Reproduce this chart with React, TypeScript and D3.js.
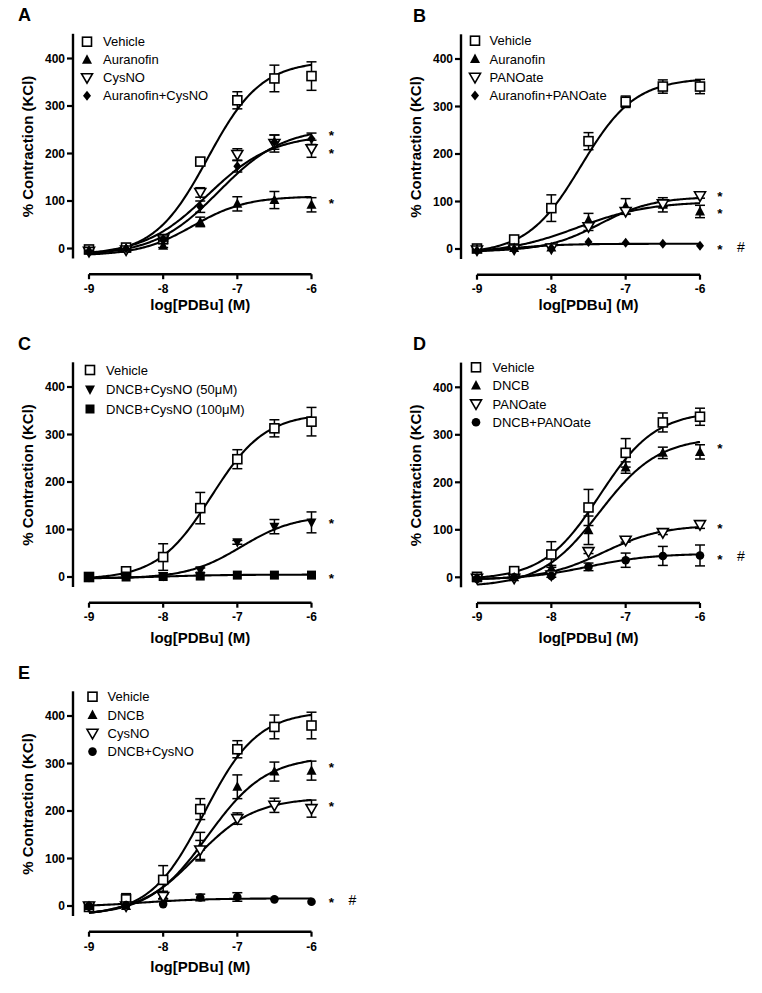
import React from "react";
import * as d3 from "d3";

// ---------- shared axes ----------
const doses = [-9, -8.5, -8, -7.5, -7, -6.5, -6];
const xTicks = [-9, -8, -7, -6];
const yTicks = [0, 100, 200, 300, 400];
const xTitle = "log[PDBu] (M)";
const yTitle = "% Contraction (KCl)";

// ---------- Panel A ----------
const aNames = ["Vehicle", "Auranofin", "CysNO", "Auranofin+CysNO"];
const aShapes = ["sq", "triU", "triD", "dia"];
const aVehicle = [-2, 2, 20, 183, 312, 358, 363];
const aVehicleErr = [0, 0, 5, 8, 18, 28, 30];
const aAuranofin = [-4, 0, 6, 56, 94, 102, 92];
const aAuranofinErr = [0, 0, 4, 10, 15, 18, 15];
const aCysNO = [-6, -3, 20, 118, 198, 221, 210];
const aCysNOErr = [0, 0, 4, 10, 12, 18, 18];
const aAurCys = [-5, 0, 20, 88, 173, 224, 231];
const aAurCysErr = [0, 0, 4, 12, 12, 15, 12];
// fitted curves: [bottom, top, logEC50, hill]
const aFits = [[-15, 395, -7.4, 1.2], [-15, 110, -7.6, 1.2], [-15, 240, -7.4, 1.0], [-15, 255, -7.25, 1.0]];
const aStars = [244, 207, 102];
const aHash = [false, false, false];

// ---------- Panel B ----------
const bNames = ["Vehicle", "Auranofin", "PANOate", "Auranofin+PANOate"];
const bShapes = ["sq", "triU", "triD", "dia"];
const bVehicle = [1, 20, 86, 227, 310, 342, 342];
const bVehicleErr = [0, 5, 28, 18, 12, 14, 15];
const bAuranofin = [0, 2, 3, 61, 90, 93, 79];
const bAuranofinErr = [0, 0, 0, 14, 16, 15, 13];
const bPANOate = [-2, 0, 2, 47, 79, 95, 112];
const bPANOateErr = [0, 0, 0, 8, 6, 6, 5];
const bAurPAN = [-3, 0, 2, 15, 13, 11, 7];
const bAurPANErr = [0, 0, 0, 0, 0, 0, 0];
const bFits = [[-10, 360, -7.6, 1.2], [-10, 100, -7.65, 0.9], [-5, 110, -7.35, 1.2], [-10, 11, -8.6, 1.2]];
const bStars = [117, 81, 5];
const bHash = [false, false, true];

// ---------- Panel C ----------
const cNames = ["Vehicle", "DNCB+CysNO (50\u03bcM)", "DNCB+CysNO (100\u03bcM)"];
const cShapes = ["sq", "triDF", "sqF"];
const cVehicle = [0, 12, 42, 145, 248, 313, 327];
const cVehicleErr = [0, 4, 28, 33, 20, 18, 30];
const cDNCB50 = [0, 3, 2, 14, 73, 106, 115];
const cDNCB50Err = [0, 0, 0, 5, 4, 15, 22];
const cDNCB100 = [0, 0, 1, 2, 4, 4, 4];
const cDNCB100Err = [0, 0, 0, 0, 0, 0, 0];
const cFits = [[-5, 345, -7.35, 1.2], [-3, 130, -6.95, 1.2], [-3, 5, -8, 1]];
const cStars = [119, 3];
const cHash = [false, false];

// ---------- Panel D ----------
const dNames = ["Vehicle", "DNCB", "PANOate", "DNCB+PANOate"];
const dShapes = ["sq", "triU", "triD", "circ"];
const dVehicle = [1, 13, 48, 147, 262, 326, 338];
const dVehicleErr = [0, 4, 27, 38, 30, 20, 18];
const dDNCB = [-2, 0, 19, 99, 231, 262, 264];
const dDNCBErr = [0, 0, 6, 30, 12, 12, 15];
const dPANOate = [-2, -2, 5, 54, 78, 94, 111];
const dPANOateErr = [0, 0, 0, 4, 4, 4, 8];
const dDNCBPAN = [-3, 0, 3, 22, 36, 45, 46];
const dDNCBPANErr = [0, 0, 3, 8, 15, 20, 22];
const dFits = [[-5, 350, -7.35, 1.15], [-20, 295, -7.35, 1.1], [-5, 110, -7.3, 1.1], [-5, 50, -7.5, 1]];
const dStars = [278, 110, 45];
const dHash = [false, false, true];

// ---------- Panel E ----------
const eNames = ["Vehicle", "DNCB", "CysNO", "DNCB+CysNO"];
const eShapes = ["sq", "triU", "triD", "circ"];
const eVehicle = [-2, 14, 55, 204, 330, 377, 380];
const eVehicleErr = [0, 12, 30, 22, 18, 25, 28];
const eDNCB = [0, 0, 23, 125, 251, 283, 285];
const eDNCBErr = [0, 0, 8, 30, 25, 20, 20];
const eCysNO = [0, 0, 20, 118, 184, 212, 205];
const eCysNOErr = [0, 0, 5, 20, 12, 15, 18];
const eDNCBCys = [0, 2, 4, 18, 19, 14, 9];
const eDNCBCysErr = [0, 0, 0, 7, 9, 0, 0];
const eFits = [[-20, 410, -7.45, 1.2], [-20, 315, -7.4, 1.1], [-20, 228, -7.55, 1.1], [-2, 16, -8.3, 1]];
const eStars = [298, 217, 14];
const eHash = [false, false, true];

// ---------- layout ----------
const FONT = "'Liberation Sans', Arial, Helvetica, sans-serif";
const cols = [
  { axisX: 73, xStart: 89, xEnd: 311.5 },
  { axisX: 461, xStart: 477, xEnd: 700 },
];

function mk(names, shapes, vals, errs, fits) {
  return names.map((n, i) => ({ name: n, shape: shapes[i], values: vals[i], err: errs[i], fit: fits[i] }));
}

const panels = [
  { id: "A", col: 0, y0: 248.5, legend: [87, 103, 41.7, 18], tickGap: 14, titleGap: 30,
    series: mk(aNames, aShapes, [aVehicle, aAuranofin, aCysNO, aAurCys], [aVehicleErr, aAuranofinErr, aCysNOErr, aAurCysErr], aFits),
    stars: aStars, hash: aHash },
  { id: "B", col: 1, y0: 249, legend: [475, 489.5, 40.7, 18.3], tickGap: 14, titleGap: 30,
    series: mk(bNames, bShapes, [bVehicle, bAuranofin, bPANOate, bAurPAN], [bVehicleErr, bAuranofinErr, bPANOateErr, bAurPANErr], bFits),
    stars: bStars, hash: bHash },
  { id: "C", col: 0, y0: 577, legend: [90, 106, 370, 19.5], tickGap: 14, titleGap: 35,
    series: mk(cNames, cShapes, [cVehicle, cDNCB50, cDNCB100], [cVehicleErr, cDNCB50Err, cDNCB100Err], cFits),
    stars: cStars, hash: cHash },
  { id: "D", col: 1, y0: 577.3, legend: [476, 492.5, 367.3, 18.3], tickGap: 14, titleGap: 35,
    series: mk(dNames, dShapes, [dVehicle, dDNCB, dPANOate, dDNCBPAN], [dVehicleErr, dDNCBErr, dPANOateErr, dDNCBPANErr], dFits),
    stars: dStars, hash: dHash },
  { id: "E", col: 0, y0: 906, legend: [92.5, 107.5, 696.7, 18.3], tickGap: 15, titleGap: 35,
    series: mk(eNames, eShapes, [eVehicle, eDNCB, eCysNO, eDNCBCys], [eVehicleErr, eDNCBErr, eCysNOErr, eDNCBCysErr], eFits),
    stars: eStars, hash: eHash },
];

function fourPL(x, p) {
  const [b, t, c, h] = p;
  return b + (t - b) / (1 + Math.pow(10, (c - x) * h));
}

function Marker({ shape, x, y }) {
  const sw = 1.6;
  switch (shape) {
    case "sq":
      return <rect x={x - 4.5} y={y - 4.5} width={9} height={9} fill="white" stroke="black" strokeWidth={sw} />;
    case "sqF":
      return <rect x={x - 4.5} y={y - 4.5} width={9} height={9} fill="black" />;
    case "triU":
      return <path d={`M${x},${y - 5.5}L${x + 5},${y + 4}L${x - 5},${y + 4}Z`} fill="black" />;
    case "triD":
      return <path d={`M${x - 5.5},${y - 4}L${x + 5.5},${y - 4}L${x},${y + 5.5}Z`} fill="white" stroke="black" strokeWidth={sw} />;
    case "triDF":
      return <path d={`M${x - 5},${y - 4}L${x + 5},${y - 4}L${x},${y + 5.5}Z`} fill="black" />;
    case "dia":
      return <path d={`M${x},${y - 5}L${x + 4},${y}L${x},${y + 5}L${x - 4},${y}Z`} fill="black" />;
    case "circ":
      return <circle cx={x} cy={y} r={4.3} fill="black" />;
    default:
      return null;
  }
}

function Panel({ p }) {
  const col = cols[p.col];
  const x = d3.scaleLinear().domain([-9, -6]).range([col.xStart, col.xEnd]);
  const y = d3.scaleLinear().domain([0, 400]).range([p.y0, p.y0 - 190]);
  const axisY = p.y0 + 25.7;
  const line = d3.line().x((d) => x(d[0])).y((d) => y(d[1])).curve(d3.curveLinear);
  const xs = d3.range(-9, -6.0001, 0.02).concat([-6]);
  const [lmx, ltx, ly0, lstep] = p.legend;
  return (
    <g>
      <text x={p.col === 0 ? 18 : 413} y={p.y0 - 227.5} fontFamily={FONT} fontWeight="bold" fontSize={18}>{p.id}</text>
      {/* y axis */}
      <line x1={col.axisX} x2={col.axisX} y1={y(452)} y2={y(-21)} stroke="black" strokeWidth={2.4} />
      {yTicks.map((t) => (
        <g key={t}>
          <line x1={col.axisX - 6} x2={col.axisX} y1={y(t)} y2={y(t)} stroke="black" strokeWidth={2.2} />
          <text x={col.axisX - 8} y={y(t)} dy="0.36em" textAnchor="end" fontFamily={FONT} fontWeight="bold" fontSize={12}>{t}</text>
        </g>
      ))}
      <text transform={`translate(${col.axisX - 45},${p.y0 - 102}) rotate(-90)`} textAnchor="middle" dy="0.36em" fontFamily={FONT} fontWeight="bold" fontSize={15}>{yTitle}</text>
      {/* x axis */}
      <line x1={col.xStart} x2={col.xEnd} y1={axisY} y2={axisY} stroke="black" strokeWidth={2.4} />
      {xTicks.map((t) => (
        <g key={t}>
          <line x1={x(t)} x2={x(t)} y1={axisY} y2={axisY + 5} stroke="black" strokeWidth={2.2} />
          <text x={x(t)} y={axisY + p.tickGap} dy="0.36em" textAnchor="middle" fontFamily={FONT} fontWeight="bold" fontSize={12}>{t}</text>
        </g>
      ))}
      <text x={(col.xStart + col.xEnd) / 2} y={axisY + p.titleGap} dy="0.36em" textAnchor="middle" fontFamily={FONT} fontWeight="bold" fontSize={15}>{xTitle}</text>
      {/* curves */}
      {p.series.map((s, i) => (
        <path key={"c" + i} d={line(xs.map((v) => [v, fourPL(v, s.fit)]))} fill="none" stroke="black" strokeWidth={2.1} />
      ))}
      {/* error bars and points */}
      {p.series.map((s, i) => (
        <g key={"s" + i}>
          {s.values.map((v, j) =>
            s.err[j] > 0 ? (
              <g key={j}>
                <line x1={x(doses[j])} x2={x(doses[j])} y1={y(v + s.err[j])} y2={y(v - s.err[j])} stroke="black" strokeWidth={1.5} />
                <line x1={x(doses[j]) - 5} x2={x(doses[j]) + 5} y1={y(v + s.err[j])} y2={y(v + s.err[j])} stroke="black" strokeWidth={1.5} />
                <line x1={x(doses[j]) - 5} x2={x(doses[j]) + 5} y1={y(v - s.err[j])} y2={y(v - s.err[j])} stroke="black" strokeWidth={1.5} />
              </g>
            ) : null
          )}
          {s.values.map((v, j) => (
            <Marker key={"m" + j} shape={s.shape} x={x(doses[j])} y={y(v)} />
          ))}
        </g>
      ))}
      {/* significance marks */}
      {p.stars.map((v, i) => (
        <g key={"st" + i}>
          <text x={col.xEnd + 20} y={y(v) + 7.8} textAnchor="middle" fontFamily={FONT} fontWeight="bold" fontSize={13.5}>*</text>
          {p.hash[i] ? (
            <text x={col.xEnd + 41} y={y(v) + 5.5} textAnchor="middle" fontFamily={FONT} fontSize={14}>#</text>
          ) : null}
        </g>
      ))}
      {/* legend */}
      {p.series.map((s, i) => (
        <g key={"l" + i}>
          <Marker shape={s.shape} x={lmx} y={ly0 + i * lstep} />
          <text x={ltx} y={ly0 + i * lstep} dy="0.36em" fontFamily={FONT} fontSize={13}>{s.name}</text>
        </g>
      ))}
    </g>
  );
}

export default function App() {
  return (
    <svg width={762} height={993} style={{ position: "absolute", left: 0, top: 0, background: "white" }}>
      <rect width={762} height={993} fill="white" />
      {panels.map((p) => (
        <Panel key={p.id} p={p} />
      ))}
    </svg>
  );
}
